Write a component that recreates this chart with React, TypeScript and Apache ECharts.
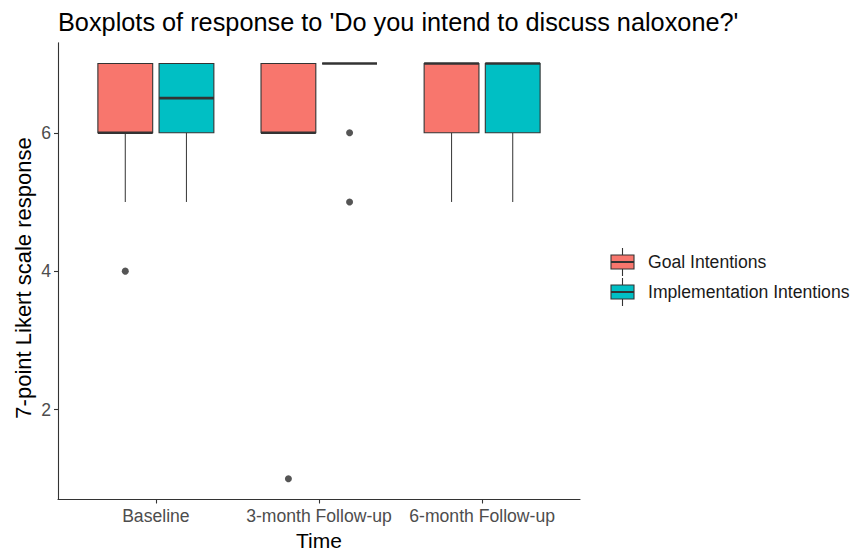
import React, { useEffect, useRef } from "react";
import * as echarts from "echarts";

// Time points on the x axis
const categories = ["Baseline", "3-month Follow-up", "6-month Follow-up"];
// Box statistics per time point: [lower whisker, Q1, median, Q3, upper whisker]
const goalBoxes = [
  [5, 6, 6, 7, 7],
  [6, 6, 6, 7, 7],
  [5, 6, 7, 7, 7],
];
const implBoxes = [
  [5, 6, 6.5, 7, 7],
  [7, 7, 7, 7, 7],
  [5, 6, 7, 7, 7],
];
// Outlying responses: [time point index, response]
const goalOutliers = [
  [0, 4],
  [1, 1],
];
const implOutliers = [
  [1, 6],
  [1, 5],
];
const yTicks = [2, 4, 6];
const seriesNames = ["Goal Intentions", "Implementation Intentions"];
const colors = ["#F8766D", "#00BFC4"];

const FONT = "'Liberation Sans', Arial, Helvetica, sans-serif";
const DODGE = 0.1875; // half of the dodge width, in category units
const HALF = 0.168; // half box width, in category units
const EDGE = "#333333";

function boxSeries(name: string, boxes: number[][], shift: number, color: string) {
  return {
    name,
    type: "custom",
    data: boxes.map((b, i) => [i + 1 + shift, ...b]),
    encode: { x: 0, y: [1, 2, 3, 4, 5] },
    renderItem: (_params: any, api: any) => {
      const x = api.value(0);
      const lo = api.value(1);
      const q1 = api.value(2);
      const med = api.value(3);
      const q3 = api.value(4);
      const hi = api.value(5);
      const cLo = api.coord([x, lo]);
      const cQ1 = api.coord([x, q1]);
      const cQ3 = api.coord([x, q3]);
      const cHi = api.coord([x, hi]);
      const tl = api.coord([x - HALF, q3]);
      const br = api.coord([x + HALF, q1]);
      const mL = api.coord([x - HALF, med]);
      const mR = api.coord([x + HALF, med]);
      const line = { stroke: "#444444", lineWidth: 1.1 };
      return {
        type: "group",
        children: [
          { type: "line", shape: { x1: cLo[0], y1: cLo[1], x2: cQ1[0], y2: cQ1[1] }, style: line },
          { type: "line", shape: { x1: cQ3[0], y1: cQ3[1], x2: cHi[0], y2: cHi[1] }, style: line },
          {
            type: "rect",
            shape: { x: tl[0], y: tl[1], width: br[0] - tl[0], height: br[1] - tl[1] },
            style: { fill: color, stroke: EDGE, lineWidth: 1.1 },
          },
          {
            type: "line",
            shape: { x1: mL[0], y1: mL[1], x2: mR[0], y2: mR[1] },
            style: { stroke: EDGE, lineWidth: 2.6 },
          },
        ],
      };
    },
  };
}

function outlierSeries(name: string, pts: number[][], shift: number) {
  return {
    name,
    type: "scatter",
    data: pts.map(([i, v]) => [i + 1 + shift, v]),
    symbolSize: 7,
    itemStyle: { color: "#2b2b2b" },
  };
}

function legendKey(y: number, color: string, label: string) {
  return {
    type: "group",
    children: [
      { type: "line", shape: { x1: 622.5, y1: y - 14, x2: 622.5, y2: y + 14 }, style: { stroke: EDGE, lineWidth: 1.1 } },
      {
        type: "rect",
        shape: { x: 611, y: y - 7, width: 23, height: 14 },
        style: { fill: color, stroke: EDGE, lineWidth: 1.1 },
      },
      { type: "line", shape: { x1: 611, y1: y, x2: 634, y2: y }, style: { stroke: EDGE, lineWidth: 2 } },
      {
        type: "text",
        x: 648,
        y,
        style: { text: label, fill: "#1a1a1a", font: `17.6px ${FONT}`, verticalAlign: "middle" },
      },
    ],
  };
}

export default function App() {
  const ref = useRef<HTMLDivElement>(null);

  useEffect(() => {
    if (!ref.current) return;
    const chart = echarts.init(ref.current, undefined, { renderer: "svg" });
    chart.setOption({
      animation: false,
      backgroundColor: "#ffffff",
      textStyle: { fontFamily: FONT },
      title: {
        text: "Boxplots of response to 'Do you intend to discuss naloxone?'",
        left: 58,
        top: 9,
        padding: 0,
        textStyle: { fontSize: 25.3, fontWeight: "normal", color: "#000000", fontFamily: FONT },
      },
      grid: {
        left: 58,
        right: 277,
        top: 42.8,
        bottom: 50.5,
        containLabel: false,
        outerBoundsMode: "none",
      },
      xAxis: {
        type: "value",
        min: 0.4,
        max: 3.6,
        name: "Time",
        nameLocation: "middle",
        nameGap: 30,
        nameTextStyle: { fontSize: 21, color: "#000000", fontFamily: FONT },
        axisLine: { show: true, lineStyle: { color: EDGE, width: 1.1 } },
        axisTick: { show: true, length: 4, customValues: [1, 2, 3], lineStyle: { color: EDGE, width: 1.1 } },
        axisLabel: {
          customValues: [1, 2, 3],
          formatter: (v: number) => categories[Math.round(v) - 1] ?? "",
          color: "#4D4D4D",
          fontSize: 17.6,
          margin: 7,
          fontFamily: FONT,
        },
        splitLine: { show: false },
      },
      yAxis: {
        type: "value",
        min: 0.7,
        max: 7.3,
        axisLine: { show: true, lineStyle: { color: EDGE, width: 1.1 } },
        axisTick: { show: true, length: 4, customValues: yTicks, lineStyle: { color: EDGE, width: 1.1 } },
        axisLabel: {
          customValues: yTicks,
          color: "#4D4D4D",
          fontSize: 17.6,
          margin: 7,
          fontFamily: FONT,
        },
        splitLine: { show: false },
      },
      series: [
        boxSeries(seriesNames[0], goalBoxes, -DODGE, colors[0]),
        boxSeries(seriesNames[1], implBoxes, DODGE, colors[1]),
        outlierSeries(seriesNames[0], goalOutliers, -DODGE),
        outlierSeries(seriesNames[1], implOutliers, DODGE),
      ],
      graphic: [
        // y-axis title, rotated
        {
          type: "text",
          x: 23,
          y: 278,
          rotation: Math.PI / 2,
          style: {
            text: "7-point Likert scale response",
            fill: "#000000",
            font: `22px ${FONT}`,
            align: "center",
            verticalAlign: "middle",
          },
        },
        legendKey(262, colors[0], seriesNames[0]),
        legendKey(292, colors[1], seriesNames[1]),
      ],
    });
    return () => chart.dispose();
  }, []);

  return (
    <div
      ref={ref}
      style={{ position: "absolute", left: 0, top: 0, width: 857, height: 550, background: "#fff" }}
    />
  );
}
